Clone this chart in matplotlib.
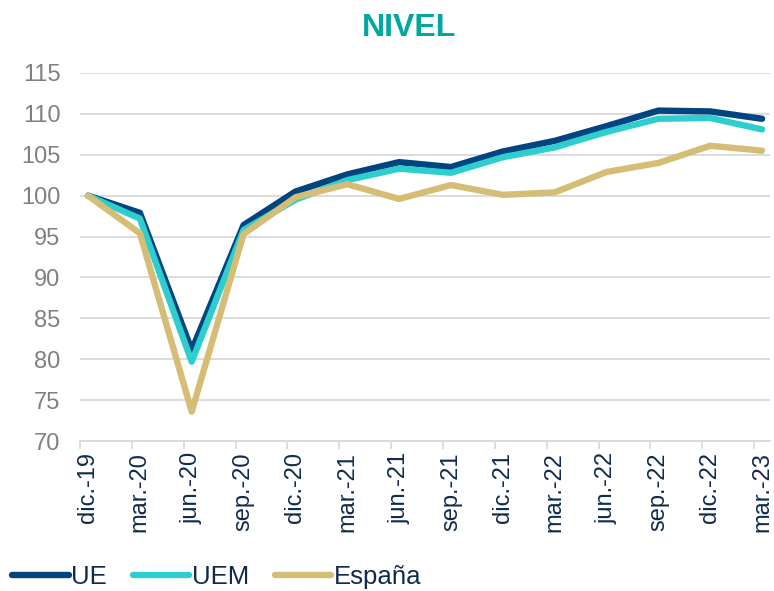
import matplotlib.pyplot as plt
import numpy as np

plt.rcParams['font.family'] = ['Liberation Sans', 'DejaVu Sans']

fechas = ['dic.-19', 'mar.-20', 'jun.-20', 'sep.-20', 'dic.-20', 'mar.-21', 'jun.-21',
          'sep.-21', 'dic.-21', 'mar.-22', 'jun.-22', 'sep.-22', 'dic.-22', 'mar.-23']
ue = [100, 97.9, 81.1, 96.4, 100.5, 102.6, 104.1, 103.5, 105.4, 106.7, 108.5, 110.4, 110.3, 109.4]
uem = [100, 97.2, 79.7, 95.8, 99.5, 101.9, 103.3, 102.8, 104.7, 105.9, 107.8, 109.4, 109.5, 108.1]
espana = [100, 95.4, 73.6, 95.3, 99.8, 101.4, 99.6, 101.3, 100.1, 100.4, 102.9, 104.0, 106.1, 105.5]

fig = plt.figure(figsize=(7.74, 5.91), dpi=100)
ax = fig.add_axes([0.1034, 0.2538, 0.8915, 0.6227])

x = np.arange(len(fechas))
ax.plot(x, ue, color='#00457f', lw=4.6, solid_capstyle='round', solid_joinstyle='round', label='UE')
ax.plot(x, uem, color='#2ecece', lw=4.6, solid_capstyle='round', solid_joinstyle='round', label='UEM')
ax.plot(x, espana, color='#d6bd76', lw=4.6, solid_capstyle='round', solid_joinstyle='round', label='España')

ax.set_ylim(70, 115)
ax.set_yticks(range(70, 116, 5))
ax.set_xlim(-0.154, 13.154)
ax.set_xticks(x)
ax.set_xticklabels(fechas, rotation=90, color='#0e2a4e', fontsize=17)
ax.set_xticks(x - 0.154, minor=True)
ax.tick_params(axis='x', which='major', length=0, pad=8)
ax.tick_params(axis='x', which='minor', length=5.5, color='#d9d9d9', width=1.2)
ax.tick_params(axis='y', length=0, labelsize=17, labelcolor='#808080', pad=14)

ax.grid(axis='y', color='#d9d9d9', lw=1.3)
ax.set_axisbelow(True)
for s in ['top', 'right', 'left']:
    ax.spines[s].set_visible(False)
ax.spines['bottom'].set_color('#d9d9d9')
ax.spines['bottom'].set_linewidth(1.3)

fig.text(0.528, 0.953, 'NIVEL', ha='center', va='center', fontsize=23,
         fontweight='bold', color='#00a6a0')

fig.legend(loc='center left', bbox_to_anchor=(0.009, 0.024), ncol=3, frameon=False,
           fontsize=18.5, handlelength=2.2, handletextpad=0.1, columnspacing=1.0,
           labelcolor='#0e2a4e', borderaxespad=0, borderpad=0.2)

fig.savefig('out.png', dpi=100)
